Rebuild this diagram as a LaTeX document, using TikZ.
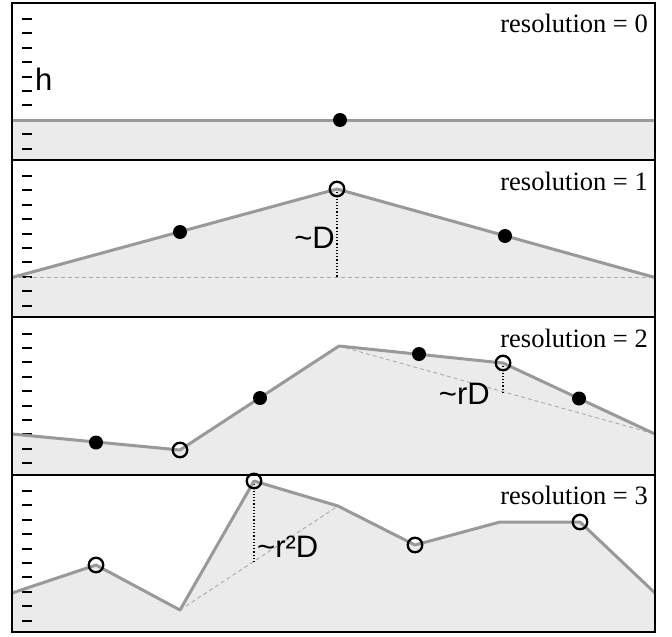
\documentclass[tikz,border=0pt]{standalone}
\usepackage{fontspec}
\setmainfont{Liberation Serif}
\newfontfamily\labfont{Liberation Sans}
\definecolor{linegray}{HTML}{999999}
\definecolor{fillgray}{HTML}{EBEBEB}
\definecolor{dashgray}{HTML}{AAAAAA}
\begin{document}
\begin{tikzpicture}[x=1pt,y=-1pt,
  terrain/.style={draw=linegray, line width=3pt, line join=round},
  areafill/.style={fill=fillgray},
  tickmark/.style={draw=black, line width=2pt},
  basedash/.style={draw=dashgray, line width=0.9pt, dash pattern=on 4pt off 3pt},
  vdots/.style={draw=black, line width=1.2pt, dotted},
  fdot/.style={circle, fill=black, minimum size=14pt, inner sep=0pt},
  ring/.style={circle, draw=black, line width=2.3pt, minimum size=14.5pt, inner sep=0pt},
  restext/.style={anchor=base east, font=\fontsize{26.5}{30}\selectfont, inner sep=0pt},
  lab/.style={font=\labfont\fontsize{31}{34}\selectfont, inner sep=0pt}]
\useasboundingbox (0,0) rectangle (672,637);
\fill[white] (0,0) rectangle (672,637);
% ---------- panel 0 ----------
\fill[areafill] (12,120) rectangle (655,159.5);
% ---------- panel 1 ----------
\coordinate (a1) at (12,277.5);
\coordinate (b1) at (337,189);
\coordinate (c1) at (655,277.5);
\coordinate (f1) at (337,277.5);
\fill[areafill] (a1) -- (b1) -- (c1) -- (655,317) -- (12,317) -- cycle;
% ---------- panel 2 ----------
\coordinate (a2) at (12,434);
\coordinate (b2) at (180,450);
\coordinate (c2) at (339,346);
\coordinate (d2) at (503,363);
\coordinate (e2) at (655,434);
\coordinate (f2) at (503,392.5);
\fill[areafill] (a2) -- (b2) -- (c2) -- (d2) -- (e2) -- (655,474.5) -- (12,474.5) -- cycle;
% ---------- panel 3 ----------
\coordinate (a3) at (12,593);
\coordinate (b3) at (96,565);
\coordinate (c3) at (180,610);
\coordinate (d3) at (254,481);
\coordinate (e3) at (338,506);
\coordinate (g3) at (415,545);
\coordinate (h3) at (500,522);
\coordinate (i3) at (580,522);
\coordinate (j3) at (655,593);
\coordinate (f3) at (254,561.5);
\fill[areafill] (a3) -- (b3) -- (c3) -- (d3) -- (e3) -- (g3) -- (h3) -- (i3) -- (j3) -- (655,632) -- (12,632) -- cycle;
% ---------- ticks ----------
\foreach \T in {2.5,159.5,317,474.5}{
  \foreach \i in {0,...,9}{
    \draw[tickmark] (22,{\T+16.5+14.4*\i}) -- (32,{\T+16.5+14.4*\i});
  }
}
% ---------- guides ----------
\draw[basedash] (a1) -- (c1);
\draw[vdots] (b1) -- (f1);
\draw[basedash] (c2) -- (e2);
\draw[vdots] (d2) -- (f2);
\draw[basedash] (c3) -- (e3);
\draw[vdots] (d3) -- (f3);
% ---------- terrain lines ----------
\draw[terrain] (12,120) -- (655,120);
\draw[terrain] (a1) -- (b1) -- (c1);
\draw[terrain] (a2) -- (b2) -- (c2) -- (d2) -- (e2);
\draw[terrain] (a3) -- (b3) -- (c3) -- (d3) -- (e3) -- (g3) -- (h3) -- (i3) -- (j3);
% ---------- markers ----------
\node[fdot] (p0) at (340,120) {};
\node[fdot] (p1a) at (180,232) {};
\node[ring] (p1b) at (b1) {};
\node[fdot] (p1c) at (505,236) {};
\node[fdot] (p2a) at (96,442.5) {};
\node[ring] (p2b) at (b2) {};
\node[fdot] (p2c) at (260,398) {};
\node[fdot] (p2d) at (419,354) {};
\node[ring] (p2e) at (d2) {};
\node[fdot] (p2f) at (579,398.5) {};
\node[ring] (p3a) at (b3) {};
\node[ring] (p3b) at (d3) {};
\node[ring] (p3c) at (g3) {};
\node[ring] (p3d) at (i3) {};
% ---------- labels ----------
\node[restext] (r0) at (648,32) {resolution = 0};
\node[restext] (r1) at (648,190) {resolution = 1};
\node[restext] (r2) at (648,347) {resolution = 2};
\node[restext] (r3) at (648,504) {resolution = 3};
\node[lab, anchor=base west] (h) at (35,90) {h};
\node[lab, anchor=base east] (lD) at (335,248) {\char"007E D};
\node[lab, anchor=base east] (lrD) at (490,404) {\char"007E rD};
\node[lab, anchor=base west] (lr2D) at (257,557) {\char"007E r²D};
% ---------- frame ----------
\draw[line width=2pt] (12,3) rectangle (655,632);
\draw[line width=2pt] (12,159.5) -- (655,159.5);
\draw[line width=2pt] (12,317) -- (655,317);
\draw[line width=2pt] (12,474.5) -- (655,474.5);
\end{tikzpicture}
\end{document}
